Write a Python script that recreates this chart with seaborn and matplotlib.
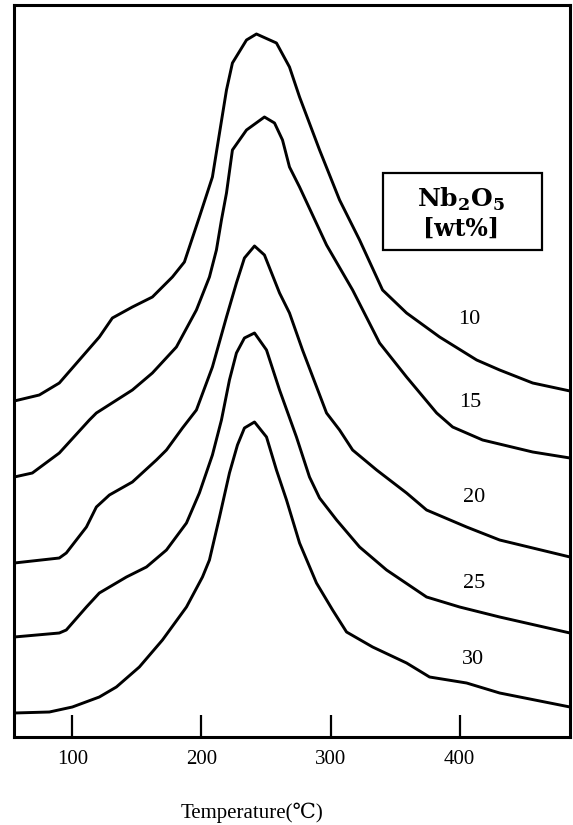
import numpy as np
import pandas as pd
import matplotlib
matplotlib.use("Agg")
import matplotlib.pyplot as plt
from matplotlib.patches import Rectangle
import seaborn as sns

# TPD-like curves (temperature in C, signal in arbitrary units, stacked)
t_10 = [55, 74.4, 89.9, 105.4, 120.9, 131.0, 146.5, 162.0, 177.5, 186.8, 198.4, 208.5, 214.0, 219.4,
        224.0, 234.9, 242.6, 258.1, 268.2, 276.0, 291.5, 307.0, 322.5, 340.3, 358.9, 384.5, 413.2,
        431.0, 456.6, 485.5]
s_10 = [336, 342, 354, 377, 400, 419, 430, 440, 460, 475, 520, 560, 604, 647,
        674, 697, 703, 694, 670, 640, 587, 537, 497, 447, 424, 400, 377,
        367, 354, 346]

t_15 = [55, 69.0, 89.9, 113.2, 118.6, 146.5, 162.0, 180.6, 196.1, 206.2, 211.6, 215.5, 219.4, 224.0,
        234.9, 248.8, 256.6, 262.8, 268.2, 276.0, 296.9, 317.1, 338.0, 358.9, 382.2, 394.6, 417.8,
        456.6, 485.5]
s_15 = [260, 264, 284, 317, 324, 347, 364, 390, 427, 460, 487, 517, 544, 587,
        607, 620, 614, 597, 570, 550, 492, 447, 394, 360, 324, 310, 297,
        285, 279]

t_20 = [55, 89.9, 95.3, 110.9, 118.6, 128.7, 146.5, 165.1, 172.9, 185.3, 196.1, 208.5, 219.4, 227.1,
        233.3, 241.1, 248.8, 260.5, 268.2, 278.3, 296.9, 307.0, 317.1, 335.7, 358.9, 374.4, 405.4,
        431.0, 485.5]
s_20 = [174, 179, 184, 210, 230, 242, 255, 277, 287, 309, 327, 370, 420, 454,
        479, 491, 482, 444, 424, 387, 324, 307, 287, 267, 244, 227, 210,
        197, 180]

t_25 = [55, 89.9, 95.3, 110.9, 120.9, 141.9, 157.4, 172.9, 188.4, 198.4, 208.5, 215.5, 221.7, 227.1,
        233.3, 241.1, 250.4, 260.5, 273.6, 283.7, 291.5, 304.7, 322.5, 343.4, 374.4, 400.0, 431.0,
        485.5]
s_25 = [100, 104, 107, 130, 144, 160, 170, 187, 214, 244, 282, 317, 357, 384,
        399, 404, 387, 347, 300, 260, 239, 217, 190, 167, 140, 130, 120,
        104]

t_30 = [55, 82.2, 100, 120.9, 134.1, 151.9, 169.8, 188.4, 200.8, 206.2, 214.0, 221.7, 227.9, 233.3,
        241.1, 250.4, 258.1, 265.9, 276.0, 289.1, 301.6, 312.4, 332.6, 358.9, 376.7, 405.4, 431.0,
        485.5]
s_30 = [24, 25, 30, 40, 50, 70, 97, 130, 160, 177, 220, 264, 292, 309,
        315, 300, 267, 237, 194, 154, 127, 105, 90, 74, 60, 54, 44,
        30]

loadings = ["10", "15", "20", "25", "30"]
x_ticks = [100, 200, 300, 400]

frames = []
for lab, t, s in zip(loadings, [t_10, t_15, t_20, t_25, t_30], [s_10, s_15, s_20, s_25, s_30]):
    frames.append(pd.DataFrame({"temp": t, "signal": s, "wt": lab}))
df = pd.concat(frames, ignore_index=True)

sns.set_style("white")
plt.rcParams['font.family'] = ['Liberation Serif', 'DejaVu Serif']
plt.rcParams['text.color'] = 'black'
plt.rcParams['axes.labelcolor'] = 'black'

fig = plt.figure(figsize=(5.73, 8.25), dpi=100)
ax = fig.add_axes([14 / 573, 88 / 825, 556 / 573, 732 / 825])

sns.lineplot(data=df, x="temp", y="signal", units="wt", estimator=None, sort=False,
             color="black", linewidth=2.1, ax=ax)

ax.set_xlim(54.8, 485.5)
ax.set_ylim(0, 732)
ax.set_yticks([])
ax.set_xticks(x_ticks)
ax.set_xticklabels([str(v) for v in x_ticks], fontsize=15)
ax.tick_params(axis="x", direction="in", length=16, width=1.6, pad=9, bottom=True, colors="black")
for sp in ax.spines.values():
    sp.set_color("black")
    sp.set_linewidth(2.2)

ax.set_xlabel("Temperature(\u2103)", fontsize=15, color="black")
ax.xaxis.set_label_coords((252 - 14) / 556, -0.09)
ax.set_ylabel("")

# curve labels
label_pos = [(407.8, 417), (408.5, 334), (411.6, 239), (411.6, 154), (410.1, 77)]
for lab, (tx, ty) in zip(loadings, label_pos):
    ax.text(tx, ty, lab, fontsize=16, ha="center", va="center", color="black")

# legend box
fig.patches.append(Rectangle((383 / 573, 1 - 250 / 825), 159 / 573, 77 / 825,
                             transform=fig.transFigure, fill=False, edgecolor="black", linewidth=1.6))
fig.text(461 / 573, 1 - 199 / 825, r"Nb$_\mathregular{2}$O$_\mathregular{5}$", fontsize=18,
         fontweight="bold", ha="center", va="center", family=['DejaVu Serif'], color="black")
fig.text(461 / 573, 1 - 229 / 825, "[wt%]", fontsize=17, fontweight="bold",
         ha="center", va="center", family=['DejaVu Serif'], color="black")

fig.savefig("out.png", dpi=100)
